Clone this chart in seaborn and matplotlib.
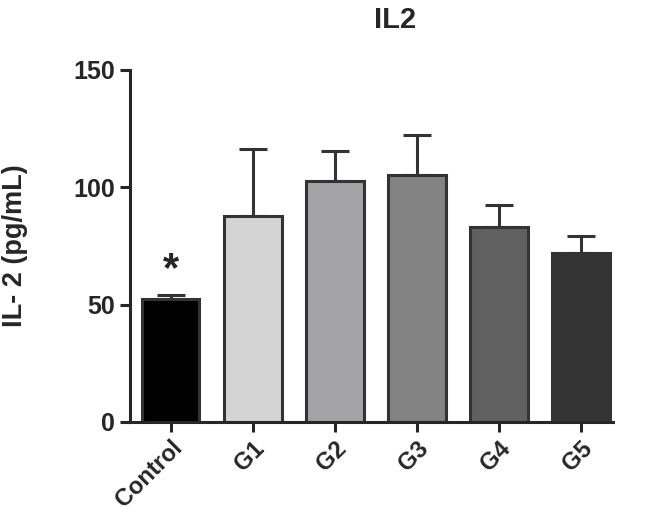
import seaborn as sns
import pandas as pd
import matplotlib.pyplot as plt

groups = ['Control', 'G1', 'G2', 'G3', 'G4', 'G5']
means = [52.5, 87.5, 102.7, 105.1, 83.2, 72.1]
errors = [1.5, 28.7, 12.6, 17.3, 9.1, 7.0]
bar_colors = ['#000000', '#d4d4d4', '#a3a3a8', '#838383', '#606060', '#333333']

df = pd.DataFrame({'group': groups, 'value': means})

sns.set_style('ticks')
plt.rcParams['font.family'] = ['Liberation Sans', 'DejaVu Sans']

fig = plt.figure(figsize=(6.62, 5.17), dpi=100)
ax = fig.add_axes([0.196, 0.184, 0.730, 0.681])

edge = '#333333'
lw = 2.2

# error bars first so bars cover the lower part
ax.errorbar(range(len(groups)), means, yerr=[[0] * len(groups), errors],
            fmt='none', ecolor=edge, elinewidth=lw, capsize=10, capthick=lw, zorder=1)

sns.barplot(x='group', y='value', data=df, hue='group', palette=bar_colors,
            legend=False, width=0.7, edgecolor=edge, linewidth=lw, ax=ax, zorder=2)

# significance mark
ax.text(0, 56, '*', ha='center', va='bottom', fontsize=30, fontweight='bold')

ax.set_ylim(0, 150)
ax.set_xlim(-0.5, 5.39)
ax.set_yticks([0, 50, 100, 150])
ax.set_title('IL2', fontsize=21, fontweight='bold', x=0.549, pad=30)
ax.set_ylabel('IL- 2 (pg/mL)', fontsize=19.5, fontweight='bold')
ax.yaxis.set_label_coords(-0.21, 0.5)
ax.set_xlabel('')

sns.despine(ax=ax)
for s in ['left', 'bottom']:
    ax.spines[s].set_linewidth(lw)
ax.tick_params(axis='both', width=lw, length=7, labelsize=18)
plt.setp(ax.get_yticklabels(), fontweight='bold')
plt.setp(ax.get_xticklabels(), rotation=45, ha='right', rotation_mode='anchor',
         fontsize=17, fontweight='bold')

fig.savefig('out.png', dpi=100)
